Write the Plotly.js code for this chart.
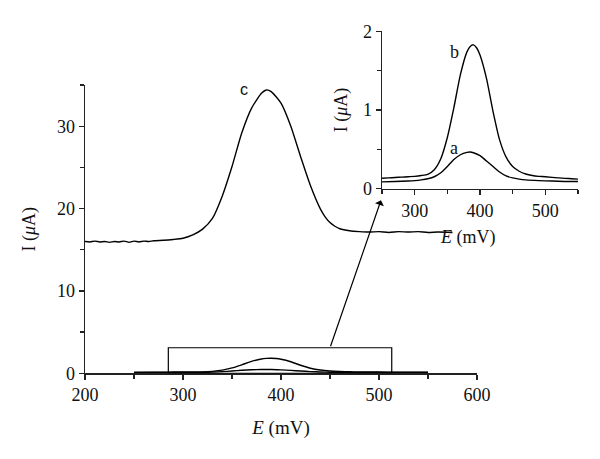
<!DOCTYPE html>
<html>
<head>
<meta charset="utf-8">
<script src="https://cdn.plot.ly/plotly-3.0.1.min.js"></script>
<style>
  html, body { margin: 0; padding: 0; background: #fff; }
  #chart { width: 600px; height: 459px; }
</style>
</head>
<body>
<div id="chart"></div>
<script>
// curve c (main plot), potential in mV and current in µA
const cE = [200, 205, 210, 215, 220, 225, 230, 235, 240, 245, 250, 255, 260, 265, 270, 280, 290, 300, 310, 320,
            330, 340, 350, 360, 370, 380, 385, 390, 400, 410, 420, 430, 440, 445, 450, 455, 460, 470, 480, 490, 500,
            510, 520, 530, 540, 550, 560, 575];
const cI = [16.0, 15.95, 16.05, 15.95, 16.0, 15.9, 16.0, 15.95, 16.05, 15.9, 16.05, 15.95, 16.05, 16.0, 16.1, 16.15, 16.25, 16.4, 16.8, 17.5,
            18.8, 21.5, 25.1, 29.2, 32.2, 34.0, 34.4, 34.2, 32.8, 30.0, 26.3, 22.8, 20.0, 19.0, 18.3, 17.85, 17.55, 17.3, 17.2, 17.15, 17.2,
            17.1, 17.2, 17.15, 17.2, 17.1, 17.15, 17.1];

// curves a and b (inset, also drawn at the bottom of the main plot)
const bE = [250, 260, 270, 280, 290, 300, 310, 320, 330, 340, 350, 360, 370, 380, 385, 390, 395, 400,
            410, 420, 430, 440, 450, 460, 470, 480, 490, 500, 520, 540, 550];
const bI = [0.13, 0.135, 0.14, 0.145, 0.15, 0.155, 0.165, 0.18, 0.24, 0.38, 0.65, 1.03, 1.45, 1.74, 1.81, 1.83, 1.79, 1.70,
            1.40, 0.98, 0.62, 0.40, 0.28, 0.22, 0.185, 0.165, 0.155, 0.15, 0.135, 0.125, 0.12];

const aE = [250, 270, 290, 300, 310, 320, 330, 340, 350, 360, 370, 380, 385, 390, 400, 410, 420, 430,
            440, 450, 460, 470, 490, 510, 530, 550];
const aI = [0.085, 0.09, 0.095, 0.10, 0.11, 0.125, 0.15, 0.20, 0.28, 0.37, 0.43, 0.46, 0.465, 0.455, 0.42, 0.35, 0.28, 0.21,
            0.16, 0.135, 0.12, 0.11, 0.10, 0.095, 0.09, 0.09];

// zoom box drawn on the main plot
const boxE = [285, 513];
const boxI = [0, 3.1];

const SERIF = 'Liberation Serif, Times New Roman, serif';
const lineStyle = { color: '#000', width: 1.4, shape: 'spline', smoothing: 0.6 };

const traces = [
    { x: cE, y: cI, mode: 'lines', line: lineStyle, xaxis: 'x', yaxis: 'y' },
    { x: bE, y: bI, mode: 'lines', line: lineStyle, xaxis: 'x', yaxis: 'y' },
    { x: aE, y: aI, mode: 'lines', line: lineStyle, xaxis: 'x', yaxis: 'y' },
    { x: bE, y: bI, mode: 'lines', line: lineStyle, xaxis: 'x2', yaxis: 'y2' },
    { x: aE, y: aI, mode: 'lines', line: lineStyle, xaxis: 'x2', yaxis: 'y2' }
];

const axisBase = {
    showgrid: false,
    zeroline: false,
    showline: true,
    linecolor: '#222',
    linewidth: 1.5,
    ticks: 'outside',
    ticklen: 5,
    tickwidth: 1.3,
    tickcolor: '#222',
    tickfont: { family: SERIF, size: 18, color: '#111' },
    fixedrange: true
};

const layout = {
    width: 600,
    height: 459,
    margin: { l: 0, r: 0, t: 0, b: 0 },
    paper_bgcolor: '#fff',
    plot_bgcolor: 'rgba(0,0,0,0)',
    showlegend: false,
    font: { family: SERIF, color: '#111' },
    xaxis: Object.assign({}, axisBase, {
        domain: [0.1417, 0.795],
        range: [200, 600],
        dtick: 100,
        minor: { dtick: 50, ticklen: 4, tickcolor: '#222', showgrid: false },
        anchor: 'y',
        title: { text: '<i>E</i> (mV)', font: { family: SERIF, size: 19 }, standoff: 16 }
    }),
    yaxis: Object.assign({}, axisBase, {
        domain: [0.1867, 0.8148],
        range: [0, 35],
        dtick: 10,
        minor: { dtick: 5, ticklen: 4, tickcolor: '#222', showgrid: false },
        anchor: 'x',
        title: { text: 'I (<i>μ</i>A)', font: { family: SERIF, size: 18 }, standoff: 16 }
    }),
    xaxis2: Object.assign({}, axisBase, {
        domain: [0.6367, 0.9633],
        range: [250, 550],
        dtick: 100,
        tick0: 300,
        minor: { dtick: 50, ticklen: 4, tickcolor: '#222', showgrid: false },
        anchor: 'y2'
    }),
    yaxis2: Object.assign({}, axisBase, {
        domain: [0.5893, 0.9314],
        range: [0, 2],
        dtick: 1,
        minor: { dtick: 0.5, ticklen: 4, tickcolor: '#222', showgrid: false },
        anchor: 'x2',
        title: { text: 'I (<i>μ</i>A)', font: { family: SERIF, size: 18 }, standoff: 10 }
    }),
    shapes: [
        {
            type: 'rect', xref: 'x', yref: 'y',
            x0: boxE[0], x1: boxE[1], y0: boxI[0], y1: boxI[1],
            line: { color: '#000', width: 1.2 }
        }
    ],
    annotations: [
        {
            x: 502, y: 21, xref: 'x', yref: 'y',
            ax: 450, ay: boxI[1], axref: 'x', ayref: 'y',
            showarrow: true, arrowhead: 1, arrowsize: 1.3, arrowwidth: 1.2, arrowcolor: '#000', text: ''
        },
        // inset x title, a little left of the axis centre as in the original
        { x: 0.78, y: 0.4815, xref: 'paper', yref: 'paper', xanchor: 'center', yanchor: 'middle',
          text: '<i>E</i> (mV)', showarrow: false,
          font: { family: SERIF, size: 18, color: '#111' } },
        { x: 362, y: 34.4, xref: 'x', yref: 'y', text: 'c', showarrow: false,
          font: { family: 'Liberation Sans, Arial, sans-serif', size: 16, color: '#111' } },
        { x: 361, y: 1.74, xref: 'x2', yref: 'y2', text: 'b', showarrow: false,
          font: { family: SERIF, size: 18, color: '#111' } },
        { x: 360, y: 0.52, xref: 'x2', yref: 'y2', text: 'a', showarrow: false,
          font: { family: SERIF, size: 18, color: '#111' } }
    ]
};

Plotly.newPlot('chart', traces, layout, { displayModeBar: false, staticPlot: true });
</script>
</body>
</html>
